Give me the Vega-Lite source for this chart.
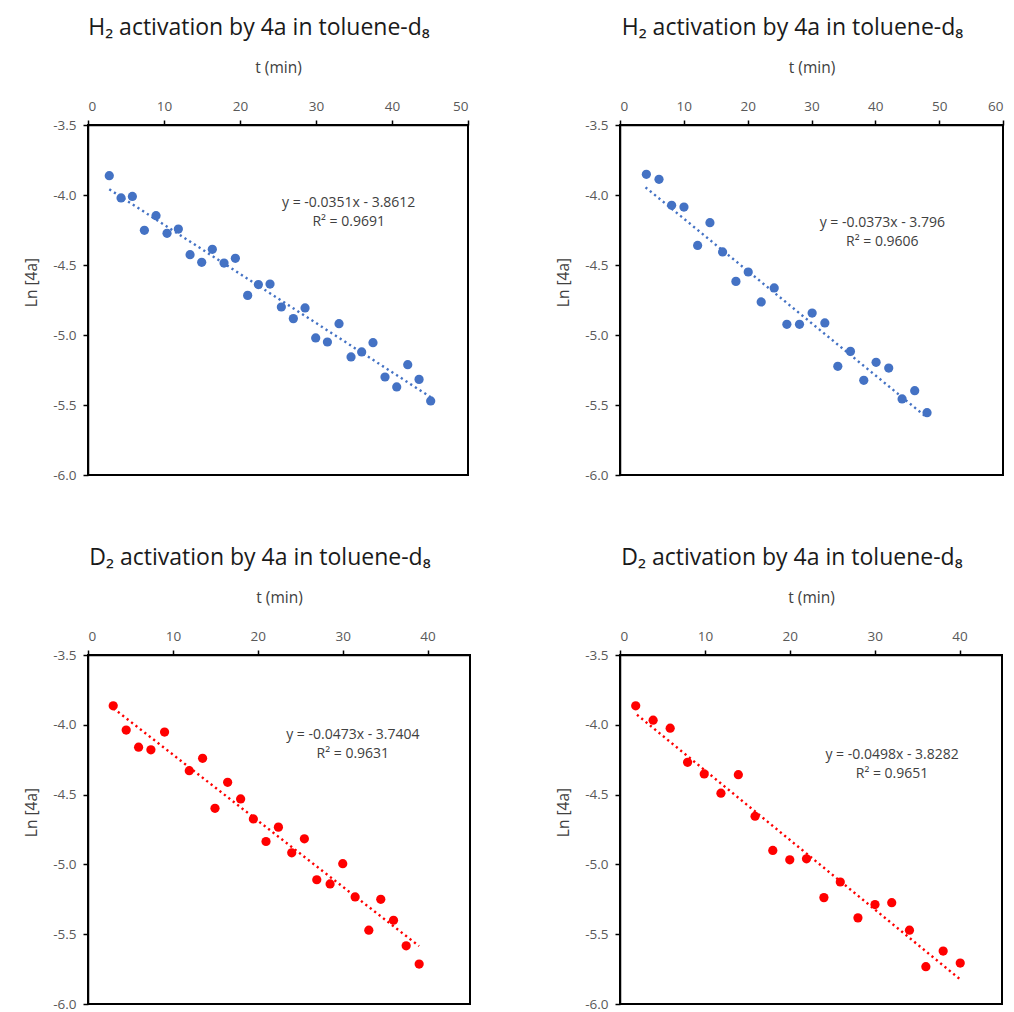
{
  "$schema": "https://vega.github.io/schema/vega-lite/v6.json",
  "background": "white",
  "padding": {"left": 23, "top": 16, "right": 4, "bottom": 0},
  "columns": 2,
  "spacing": {"row": 63, "column": 84},
  "config": {
    "font": "Open Sans",
    "locale": {"number": {"decimal": ".", "thousands": ",", "grouping": [3], "currency": ["$", ""], "minus": "-"}},
    "view": {"stroke": "#000000", "strokeWidth": 2},
    "axis": {
      "grid": false,
      "domainColor": "#000000",
      "domainWidth": 1.5,
      "tickColor": "#000000",
      "tickWidth": 1.5,
      "tickSize": 5,
      "labelFontSize": 13.5,
      "labelColor": "#595959",
      "labelPadding": 7,
      "titleFontSize": 15.5,
      "titleFontWeight": "normal",
      "titleColor": "#404040"
    },
    "axisX": {"titlePadding": 24},
    "axisY": {"titlePadding": 13, "titleY": 157},
    "title": {"fontSize": 23, "fontWeight": "normal", "color": "#1a1a1a", "anchor": "middle", "offset": 20, "dx": -19}
  },
  "datasets": {
    "h2_first": [
      {"t": 2.8, "ln": -3.862}, {"t": 4.35, "ln": -4.021}, {"t": 5.84, "ln": -4.01}, {"t": 7.42, "ln": -4.252},
      {"t": 8.95, "ln": -4.148}, {"t": 10.4, "ln": -4.274}, {"t": 11.89, "ln": -4.243}, {"t": 13.43, "ln": -4.426},
      {"t": 14.96, "ln": -4.481}, {"t": 16.36, "ln": -4.388}, {"t": 17.9, "ln": -4.486}, {"t": 19.39, "ln": -4.452},
      {"t": 21.01, "ln": -4.717}, {"t": 22.42, "ln": -4.64}, {"t": 23.95, "ln": -4.636}, {"t": 25.44, "ln": -4.8},
      {"t": 27.02, "ln": -4.883}, {"t": 28.56, "ln": -4.807}, {"t": 29.96, "ln": -5.021}, {"t": 31.5, "ln": -5.05},
      {"t": 33.03, "ln": -4.919}, {"t": 34.61, "ln": -5.157}, {"t": 36.01, "ln": -5.121}, {"t": 37.5, "ln": -5.055},
      {"t": 39.08, "ln": -5.3}, {"t": 40.62, "ln": -5.371}, {"t": 42.07, "ln": -5.212}, {"t": 43.56, "ln": -5.317},
      {"t": 45.09, "ln": -5.471}
    ],
    "h2_first_fit": [{"t": 2.8, "ln": -3.95948}, {"t": 45.1, "ln": -5.44421}],
    "h2_first_eq": [
      {"t": 34.3, "ln": -4.059, "label": "y = -0.0351x - 3.8612"},
      {"t": 34.3, "ln": -4.191, "label": "R² = 0.9691"}
    ],
    "h2_second": [
      {"t": 4.13, "ln": -3.852}, {"t": 6.11, "ln": -3.888}, {"t": 8.09, "ln": -4.074}, {"t": 10.02, "ln": -4.086},
      {"t": 12.16, "ln": -4.36}, {"t": 14.09, "ln": -4.198}, {"t": 16.07, "ln": -4.407}, {"t": 18.16, "ln": -4.617},
      {"t": 20.09, "ln": -4.55}, {"t": 22.12, "ln": -4.764}, {"t": 24.16, "ln": -4.664}, {"t": 26.14, "ln": -4.924},
      {"t": 28.12, "ln": -4.924}, {"t": 30.1, "ln": -4.843}, {"t": 32.09, "ln": -4.914}, {"t": 34.12, "ln": -5.224},
      {"t": 36.1, "ln": -5.117}, {"t": 38.19, "ln": -5.324}, {"t": 40.12, "ln": -5.195}, {"t": 42.1, "ln": -5.236},
      {"t": 44.19, "ln": -5.457}, {"t": 46.17, "ln": -5.398}, {"t": 48.1, "ln": -5.555}
    ],
    "h2_second_fit": [{"t": 4.0, "ln": -3.9452}, {"t": 48.0, "ln": -5.5864}],
    "h2_second_eq": [
      {"t": 41.1, "ln": -4.202, "label": "y = -0.0373x - 3.796"},
      {"t": 41.1, "ln": -4.336, "label": "R² = 0.9606"}
    ],
    "d2_first": [
      {"t": 2.97, "ln": -3.864}, {"t": 4.5, "ln": -4.038}, {"t": 5.96, "ln": -4.16}, {"t": 7.41, "ln": -4.179},
      {"t": 9.02, "ln": -4.052}, {"t": 11.93, "ln": -4.329}, {"t": 13.5, "ln": -4.24}, {"t": 14.96, "ln": -4.598},
      {"t": 16.45, "ln": -4.412}, {"t": 17.98, "ln": -4.531}, {"t": 19.48, "ln": -4.674}, {"t": 20.97, "ln": -4.836},
      {"t": 22.43, "ln": -4.733}, {"t": 24.0, "ln": -4.917}, {"t": 25.49, "ln": -4.817}, {"t": 26.95, "ln": -5.11},
      {"t": 28.52, "ln": -5.14}, {"t": 30.01, "ln": -4.995}, {"t": 31.47, "ln": -5.233}, {"t": 33.08, "ln": -5.471},
      {"t": 34.49, "ln": -5.25}, {"t": 35.99, "ln": -5.4}, {"t": 37.48, "ln": -5.583}, {"t": 39.01, "ln": -5.714}
    ],
    "d2_first_fit": [{"t": 3.0, "ln": -3.8823}, {"t": 39.0, "ln": -5.5851}],
    "d2_first_eq": [
      {"t": 31.2, "ln": -4.076, "label": "y = -0.0473x - 3.7404"},
      {"t": 31.2, "ln": -4.209, "label": "R² = 0.9631"}
    ],
    "d2_second": [
      {"t": 1.85, "ln": -3.864}, {"t": 3.9, "ln": -3.967}, {"t": 5.91, "ln": -4.024}, {"t": 7.96, "ln": -4.269},
      {"t": 9.92, "ln": -4.352}, {"t": 11.89, "ln": -4.49}, {"t": 13.94, "ln": -4.357}, {"t": 15.91, "ln": -4.655},
      {"t": 18.0, "ln": -4.9}, {"t": 20.0, "ln": -4.967}, {"t": 21.97, "ln": -4.96}, {"t": 24.02, "ln": -5.238},
      {"t": 25.95, "ln": -5.126}, {"t": 28.03, "ln": -5.383}, {"t": 30.04, "ln": -5.288}, {"t": 32.01, "ln": -5.274},
      {"t": 34.1, "ln": -5.471}, {"t": 36.03, "ln": -5.733}, {"t": 38.07, "ln": -5.621}, {"t": 40.08, "ln": -5.707}
    ],
    "d2_second_fit": [{"t": 2.0, "ln": -3.9278}, {"t": 40.0, "ln": -5.8202}],
    "d2_second_eq": [
      {"t": 32.05, "ln": -4.214, "label": "y = -0.0498x - 3.8282"},
      {"t": 32.05, "ln": -4.35, "label": "R² = 0.9651"}
    ]
  },
  "concat": [
    {
      "title": "H₂ activation by 4a in toluene-d₈",
      "width": 380,
      "height": 350,
      "layer": [
        {
          "data": {"name": "h2_first_fit"},
          "mark": {"type": "line", "color": "#4472C4", "strokeWidth": 2.4, "strokeDash": [2.2, 3.4]},
          "encoding": {
            "x": {"field": "t", "type": "quantitative", "scale": {"domain": [0, 50], "nice": false}, "axis": {"orient": "top", "title": "t (min)", "values": [0, 10, 20, 30, 40, 50]}},
            "y": {"field": "ln", "type": "quantitative", "scale": {"domain": [-6, -3.5], "nice": false, "zero": false}, "axis": {"title": "Ln [4a]", "values": [-3.5, -4, -4.5, -5, -5.5, -6], "format": ".1f"}}
          }
        },
        {
          "data": {"name": "h2_first"},
          "mark": {"type": "circle", "color": "#4472C4", "size": 85, "opacity": 1},
          "encoding": {"x": {"field": "t", "type": "quantitative"}, "y": {"field": "ln", "type": "quantitative"}}
        },
        {
          "data": {"name": "h2_first_eq"},
          "mark": {"type": "text", "fontSize": 14, "color": "#404040"},
          "encoding": {"x": {"field": "t", "type": "quantitative"}, "y": {"field": "ln", "type": "quantitative"}, "text": {"field": "label"}}
        }
      ]
    },
    {
      "title": "H₂ activation by 4a in toluene-d₈",
      "width": 383,
      "height": 350,
      "layer": [
        {
          "data": {"name": "h2_second_fit"},
          "mark": {"type": "line", "color": "#4472C4", "strokeWidth": 2.4, "strokeDash": [2.2, 3.4]},
          "encoding": {
            "x": {"field": "t", "type": "quantitative", "scale": {"domain": [0, 60], "nice": false}, "axis": {"orient": "top", "title": "t (min)", "values": [0, 10, 20, 30, 40, 50, 60]}},
            "y": {"field": "ln", "type": "quantitative", "scale": {"domain": [-6, -3.5], "nice": false, "zero": false}, "axis": {"title": "Ln [4a]", "values": [-3.5, -4, -4.5, -5, -5.5, -6], "format": ".1f"}}
          }
        },
        {
          "data": {"name": "h2_second"},
          "mark": {"type": "circle", "color": "#4472C4", "size": 85, "opacity": 1},
          "encoding": {"x": {"field": "t", "type": "quantitative"}, "y": {"field": "ln", "type": "quantitative"}}
        },
        {
          "data": {"name": "h2_second_eq"},
          "mark": {"type": "text", "fontSize": 14, "color": "#404040"},
          "encoding": {"x": {"field": "t", "type": "quantitative"}, "y": {"field": "ln", "type": "quantitative"}, "text": {"field": "label"}}
        }
      ]
    },
    {
      "title": "D₂ activation by 4a in toluene-d₈",
      "width": 382,
      "height": 349,
      "layer": [
        {
          "data": {"name": "d2_first_fit"},
          "mark": {"type": "line", "color": "#FF0000", "strokeWidth": 2.4, "strokeDash": [2.2, 3.4]},
          "encoding": {
            "x": {"field": "t", "type": "quantitative", "scale": {"domain": [0, 45], "nice": false}, "axis": {"orient": "top", "title": "t (min)", "values": [0, 10, 20, 30, 40]}},
            "y": {"field": "ln", "type": "quantitative", "scale": {"domain": [-6, -3.5], "nice": false, "zero": false}, "axis": {"title": "Ln [4a]", "values": [-3.5, -4, -4.5, -5, -5.5, -6], "format": ".1f"}}
          }
        },
        {
          "data": {"name": "d2_first"},
          "mark": {"type": "circle", "color": "#FF0000", "size": 85, "opacity": 1},
          "encoding": {"x": {"field": "t", "type": "quantitative"}, "y": {"field": "ln", "type": "quantitative"}}
        },
        {
          "data": {"name": "d2_first_eq"},
          "mark": {"type": "text", "fontSize": 14, "color": "#404040"},
          "encoding": {"x": {"field": "t", "type": "quantitative"}, "y": {"field": "ln", "type": "quantitative"}, "text": {"field": "label"}}
        }
      ]
    },
    {
      "title": "D₂ activation by 4a in toluene-d₈",
      "width": 382,
      "height": 349,
      "layer": [
        {
          "data": {"name": "d2_second_fit"},
          "mark": {"type": "line", "color": "#FF0000", "strokeWidth": 2.4, "strokeDash": [2.2, 3.4]},
          "encoding": {
            "x": {"field": "t", "type": "quantitative", "scale": {"domain": [0, 45], "nice": false}, "axis": {"orient": "top", "title": "t (min)", "values": [0, 10, 20, 30, 40]}},
            "y": {"field": "ln", "type": "quantitative", "scale": {"domain": [-6, -3.5], "nice": false, "zero": false}, "axis": {"title": "Ln [4a]", "values": [-3.5, -4, -4.5, -5, -5.5, -6], "format": ".1f"}}
          }
        },
        {
          "data": {"name": "d2_second"},
          "mark": {"type": "circle", "color": "#FF0000", "size": 85, "opacity": 1},
          "encoding": {"x": {"field": "t", "type": "quantitative"}, "y": {"field": "ln", "type": "quantitative"}}
        },
        {
          "data": {"name": "d2_second_eq"},
          "mark": {"type": "text", "fontSize": 14, "color": "#404040"},
          "encoding": {"x": {"field": "t", "type": "quantitative"}, "y": {"field": "ln", "type": "quantitative"}, "text": {"field": "label"}}
        }
      ]
    }
  ]
}
